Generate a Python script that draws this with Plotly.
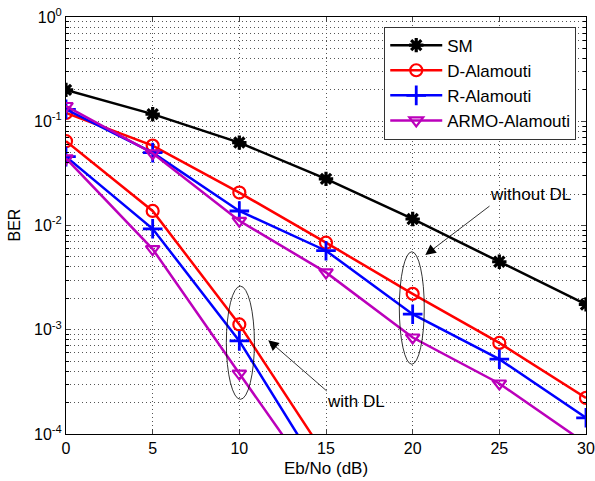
import plotly.graph_objects as go

# Eb/No axis (dB)
snr = [0, 5, 10, 15, 20, 25, 30]
snr_dl = [0, 5, 10, 15]

# BER without detection-learning (DL)
ber_sm = [0.200, 0.117, 0.0624, 0.0280, 0.01155, 0.00449, 0.00175]
ber_d = [0.120, 0.0584, 0.0207, 0.00684, 0.00221, 0.000748, 0.000222]
ber_r = [0.130, 0.0500, 0.01378, 0.00573, 0.00141, 0.000522, 0.000143]
ber_armo = [0.140, 0.0493, 0.0111, 0.00355, 0.000843, 0.000305, 0.000081]

# BER with DL
ber_d_dl = [0.0644, 0.0138, 0.001125, 0.000061]
ber_r_dl = [0.0458, 0.0093, 0.000782, 0.000036]
ber_armo_dl = [0.0440, 0.00594, 0.00038, 0.000025]

ytick_vals = [1e-4, 1e-3, 1e-2, 1e-1, 1e0]
ytick_text = ["10<sup>-4</sup>", "10<sup>-3</sup>", "10<sup>-2</sup>", "10<sup>-1</sup>", "10<sup>0</sup>"]

BLACK, RED, BLUE, MAG = "#000000", "#FF0000", "#0000FF", "#BB00BB"
LW = 2.5

fig = go.Figure()

def add(x, y, color, symbol, name, show, msize=12, mlw=2.2):
    fig.add_trace(go.Scatter(
        x=x, y=y, mode="lines+markers", name=name, showlegend=show,
        line=dict(color=color, width=LW),
        marker=dict(symbol=symbol, size=msize, color=color,
                    line=dict(color=color, width=mlw)),
    ))

add(snr, ber_sm, BLACK, "asterisk-open", "SM", True, 12, 3.2)
add(snr, ber_d, RED, "circle-open", "D-Alamouti", True)
add(snr, ber_r, BLUE, "cross-thin-open", "R-Alamouti", True, 14, 2.8)
add(snr, ber_armo, MAG, "triangle-down-open", "ARMO-Alamouti", True)
add(snr_dl, ber_d_dl, RED, "circle-open", "D-Alamouti", False)
add(snr_dl, ber_r_dl, BLUE, "cross-thin-open", "R-Alamouti", False, 14, 2.8)
add(snr_dl, ber_armo_dl, MAG, "triangle-down-open", "ARMO-Alamouti", False)

# Ellipses grouping the curves
fig.add_shape(type="circle", xref="x", yref="y", x0=19.23, x1=20.67,
              y0=0.0056, y1=0.000467, line=dict(color="black", width=0.8))
fig.add_shape(type="circle", xref="x", yref="y", x0=9.25, x1=10.87,
              y0=0.00262, y1=0.000215, line=dict(color="black", width=0.8))

# Arrows and their labels (annotation y is log10 on a log axis)
for tip, tail in [((20.73, -2.283), (24.52, -1.803)),
                  ((11.67, -3.10), (15.13, -3.60))]:
    fig.add_annotation(x=tip[0], y=tip[1], ax=tail[0], ay=tail[1],
                       xref="x", yref="y", axref="x", ayref="y", text="",
                       showarrow=True, arrowhead=2, arrowsize=2.6,
                       arrowwidth=0.8, arrowcolor="black")
fig.add_annotation(x=26.79, y=-1.699, xref="x", yref="y", text="without DL",
                   showarrow=False, font=dict(size=17, color="black"))
fig.add_annotation(x=16.72, y=-3.686, xref="x", yref="y", text="with DL",
                   showarrow=False, font=dict(size=17, color="black"))

# Axis titles
fig.add_annotation(x=-0.1, y=0.5, xref="paper", yref="paper", text="BER",
                   textangle=-90, showarrow=False, xanchor="center",
                   font=dict(size=16, color="black"))
fig.add_annotation(x=0.5, y=-0.083, xref="paper", yref="paper", text="Eb/No (dB)",
                   showarrow=False, yanchor="middle",
                   font=dict(size=17, color="black"))

font = "Liberation Sans, Arial, sans-serif"
GRID = "#555555"
fig.update_layout(
    width=595, height=481,
    margin=dict(l=66, r=9, t=17, b=47),
    paper_bgcolor="white", plot_bgcolor="white",
    font=dict(family=font, size=16, color="black"),
    legend=dict(x=0.612, y=0.977, xanchor="left", yanchor="top",
                bgcolor="white", bordercolor="#333333", borderwidth=1,
                font=dict(size=17), tracegroupgap=0, itemwidth=52),
)
fig.update_xaxes(
    range=[0, 30], tickvals=snr, ticks="inside", ticklen=5, automargin=False,
    showline=True, linecolor="black", mirror="ticks", linewidth=1,
    showgrid=True, gridcolor=GRID, griddash="1px,3px", gridwidth=1,
    zeroline=False,
)
fig.update_yaxes(
    type="log", range=[-4, 0], tickvals=ytick_vals, ticktext=ytick_text,
    ticks="inside", ticklen=5, automargin=False,
    showline=True, linecolor="black", mirror="ticks", linewidth=1,
    showgrid=True, gridcolor=GRID, griddash="1px,3px", gridwidth=1,
    minor=dict(dtick="D1", showgrid=True, gridcolor=GRID, griddash="1px,3px",
               ticks="inside", ticklen=3, tickcolor="black"),
)

fig.write_html("out.html")
